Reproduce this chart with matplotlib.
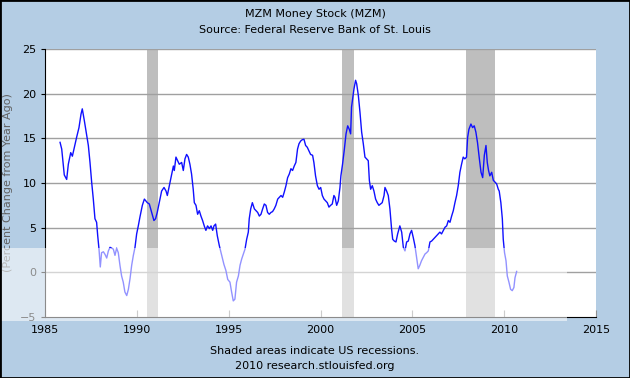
import matplotlib
matplotlib.use("Agg")
import matplotlib.pyplot as plt
from matplotlib.patches import Rectangle

# MZM year-over-year % change (decimal years)
years = [1985.82, 1985.91, 1986.05, 1986.18, 1986.27, 1986.40, 1986.49, 1986.60, 1986.72, 1986.85,
         1986.96, 1987.03, 1987.14, 1987.27, 1987.36, 1987.45, 1987.54, 1987.63, 1987.72, 1987.81,
         1987.87, 1987.94, 1988.01, 1988.08, 1988.18, 1988.27, 1988.36, 1988.45, 1988.54, 1988.63,
         1988.72, 1988.81, 1988.90, 1988.99, 1989.08, 1989.17, 1989.26, 1989.35, 1989.45, 1989.54,
         1989.63, 1989.72, 1989.81, 1989.90, 1989.99, 1990.08, 1990.17, 1990.30, 1990.41, 1990.57,
         1990.68, 1990.81, 1990.93, 1991.02, 1991.11, 1991.22, 1991.35, 1991.48, 1991.59, 1991.66,
         1991.77, 1991.90, 1991.99, 1992.04, 1992.13, 1992.22, 1992.31, 1992.44, 1992.53, 1992.62,
         1992.71, 1992.80, 1992.89, 1992.98, 1993.07, 1993.13, 1993.22, 1993.31, 1993.40, 1993.49,
         1993.58, 1993.67, 1993.76, 1993.85, 1993.95, 1994.04, 1994.13, 1994.20, 1994.29, 1994.38,
         1994.49, 1994.62, 1994.74, 1994.85, 1994.95, 1995.07, 1995.16, 1995.25, 1995.34, 1995.43,
         1995.53, 1995.62, 1995.71, 1995.80, 1995.89, 1995.98, 1996.07, 1996.12, 1996.20, 1996.29,
         1996.40, 1996.49, 1996.58, 1996.67, 1996.76, 1996.85, 1996.94, 1997.03, 1997.12, 1997.21,
         1997.30, 1997.39, 1997.48, 1997.57, 1997.67, 1997.76, 1997.85, 1997.94, 1998.03, 1998.12,
         1998.21, 1998.30, 1998.39, 1998.48, 1998.57, 1998.66, 1998.75, 1998.83, 1998.92, 1999.01,
         1999.10, 1999.19, 1999.28, 1999.37, 1999.46, 1999.57, 1999.64, 1999.73, 1999.83, 1999.92,
         2000.01, 2000.10, 2000.19, 2000.28, 2000.37, 2000.46, 2000.55, 2000.64, 2000.73, 2000.79,
         2000.88, 2000.97, 2001.06, 2001.11, 2001.20, 2001.30, 2001.39, 2001.48, 2001.57, 2001.64,
         2001.69, 2001.75, 2001.82, 2001.91, 2001.97, 2002.06, 2002.15, 2002.24, 2002.33, 2002.42,
         2002.51, 2002.60, 2002.66, 2002.73, 2002.82, 2002.91, 2003.00, 2003.09, 2003.18, 2003.27,
         2003.36, 2003.46, 2003.51, 2003.60, 2003.69, 2003.78, 2003.87, 2003.93, 2004.02, 2004.11,
         2004.20, 2004.32, 2004.42, 2004.51, 2004.60, 2004.69, 2004.78, 2004.87, 2004.96, 2005.05,
         2005.14, 2005.23, 2005.32, 2005.41, 2005.50, 2005.60, 2005.69, 2005.78, 2005.87, 2005.96,
         2006.05, 2006.14, 2006.23, 2006.32, 2006.41, 2006.50, 2006.59, 2006.69, 2006.78, 2006.87,
         2006.96, 2007.05, 2007.14, 2007.23, 2007.32, 2007.41, 2007.50, 2007.59, 2007.68, 2007.77,
         2007.86, 2007.95, 2008.01, 2008.08, 2008.19, 2008.28, 2008.37, 2008.46, 2008.55, 2008.65,
         2008.74, 2008.83, 2008.92, 2009.01, 2009.08, 2009.15, 2009.22, 2009.32, 2009.41, 2009.50,
         2009.59, 2009.68, 2009.73, 2009.82, 2009.90, 2009.95, 2010.02, 2010.10, 2010.17, 2010.26,
         2010.35, 2010.44, 2010.53, 2010.59, 2010.68]
pct_change = [14.55, 13.8, 10.9, 10.4, 12.1, 13.4, 13.0, 14.0, 15.1, 16.2,
              17.7, 18.3, 17.0, 15.3, 14.2, 12.3, 10.1, 8.2, 6.0, 5.6,
              4.1, 2.6, 0.6, 2.2, 2.3, 2.0, 1.6, 2.4, 2.8, 2.7,
              2.6, 1.9, 2.7, 2.2, 0.8, -0.4, -1.1, -2.2, -2.6, -1.9,
              -0.7, 0.8, 1.9, 2.8, 4.3, 5.2, 6.2, 7.5, 8.2, 7.8,
              7.65, 6.7, 5.8, 6.0, 6.7, 7.8, 9.1, 9.5, 9.1, 8.6,
              9.7, 11.0, 11.9, 11.4, 12.9, 12.5, 12.1, 12.3, 11.4, 12.7,
              13.2, 12.9, 12.1, 11.0, 9.3, 7.8, 7.5, 6.5, 6.9, 6.3,
              5.8, 5.2, 4.7, 5.2, 4.9, 5.2, 4.7, 5.2, 5.4, 4.1,
              3.0, 1.9, 0.9, 0.2, -0.8, -1.1, -2.2, -3.2, -3.0, -1.1,
              -0.4, 0.8, 1.5, 2.05, 2.6, 3.7, 4.5, 6.0, 7.1, 7.8,
              7.1, 6.9, 6.7, 6.3, 6.5, 7.1, 7.65, 7.5, 6.7, 6.5,
              6.7, 6.8, 7.1, 7.5, 8.2, 8.4, 8.6, 8.4, 9.0, 9.7,
              10.6, 11.0, 11.6, 11.4, 11.9, 12.3, 13.8, 14.4, 14.7, 14.85,
              14.9, 14.2, 14.0, 13.6, 13.2, 13.1, 12.3, 10.8, 9.7, 9.3,
              9.5, 8.6, 8.2, 8.0, 7.8, 7.3, 7.5, 7.65, 8.6, 8.4,
              7.5, 8.0, 9.5, 10.8, 12.1, 13.8, 15.5, 16.4, 16.0, 15.5,
              18.5, 19.4, 20.5, 21.5, 21.1, 19.8, 17.9, 15.7, 14.4, 12.9,
              12.7, 12.5, 10.3, 9.3, 9.7, 9.1, 8.2, 7.8, 7.5, 7.65,
              7.8, 8.6, 9.5, 9.1, 8.6, 7.1, 4.85, 3.7, 3.5, 3.4,
              4.3, 5.2, 4.5, 2.8, 2.4, 3.4, 3.5, 4.3, 4.7, 3.9,
              3.0, 1.7, 0.4, 0.8, 1.3, 1.7, 2.05, 2.2, 2.4, 3.4,
              3.5, 3.7, 3.9, 4.1, 4.3, 4.5, 4.3, 4.7, 5.05, 5.2,
              5.8, 5.6, 6.3, 6.9, 7.8, 8.6, 9.7, 11.2, 12.1, 12.9,
              12.7, 12.9, 15.1, 16.0, 16.6, 16.2, 16.4, 15.7, 14.5, 12.7,
              11.2, 10.6, 13.1, 14.2, 12.3, 11.4, 10.8, 11.2, 10.3, 10.1,
              9.9, 9.3, 9.1, 7.8, 6.0, 3.7, 2.2, 1.3, -0.4, -1.1,
              -1.9, -2.05, -1.7, -0.6, 0.1]

recession_start = [1990.58, 2001.17, 2007.92]
recession_end = [1991.17, 2001.83, 2009.50]

x_ticks = [1985, 1990, 1995, 2000, 2005, 2010, 2015]
y_ticks = [-5, 0, 5, 10, 15, 20, 25]

bg = '#b4cde4'
fig = plt.figure(figsize=(6.3, 3.78), dpi=100, facecolor=bg)
ax = fig.add_axes([45 / 630, 61 / 378, 551 / 630, 268 / 378])
ax.set_facecolor('white')

for s, e in zip(recession_start, recession_end):
    ax.axvspan(s, e, color='#bebebe', lw=0, zorder=1)

for yv in y_ticks[1:]:
    ax.axhline(yv, color='#a0a0a0', lw=1, zorder=2)

ax.plot(years, pct_change, color='#1010ff', lw=1.0, zorder=3)

ax.set_xlim(1985, 2015)
ax.set_ylim(-5, 25)
ax.set_xticks(x_ticks)
ax.set_yticks(y_ticks)
ax.tick_params(axis='x', direction='in', length=5, color='#909090', labelsize=8, pad=6)
ax.tick_params(axis='y', direction='out', length=3, color='black', labelsize=8, pad=3)
for side in ['top', 'right']:
    ax.spines[side].set_visible(False)
ax.spines['left'].set_color('black')
ax.spines['bottom'].set_color('black')
ax.set_ylabel('(Percent Change from Year Ago)', fontsize=8, color='#606060')
ax.yaxis.set_label_coords(-32 / 551, 0.5)

fig.text(0.5, 1 - 14 / 378, 'MZM Money Stock (MZM)', ha='center', va='center', fontsize=8)
fig.text(0.5, 1 - 30 / 378, 'Source: Federal Reserve Bank of St. Louis', ha='center', va='center', fontsize=8)
fig.text(0.5, 1 - 351 / 378, 'Shaded areas indicate US recessions.', ha='center', va='center', fontsize=8)
fig.text(0.5, 1 - 366 / 378, '2010 research.stlouisfed.org', ha='center', va='center', fontsize=8)

# translucent watermark band from the image host
fig.patches.append(Rectangle((0, 1 - 321 / 378), 567 / 630, 73 / 378, transform=fig.transFigure,
                             facecolor='white', alpha=0.55, lw=0, zorder=5))
# outer frame
fig.patches.append(Rectangle((0, 0), 1, 1, transform=fig.transFigure,
                             fill=False, edgecolor='black', lw=2, zorder=6))

fig.savefig('out.png', dpi=100, facecolor=bg)
